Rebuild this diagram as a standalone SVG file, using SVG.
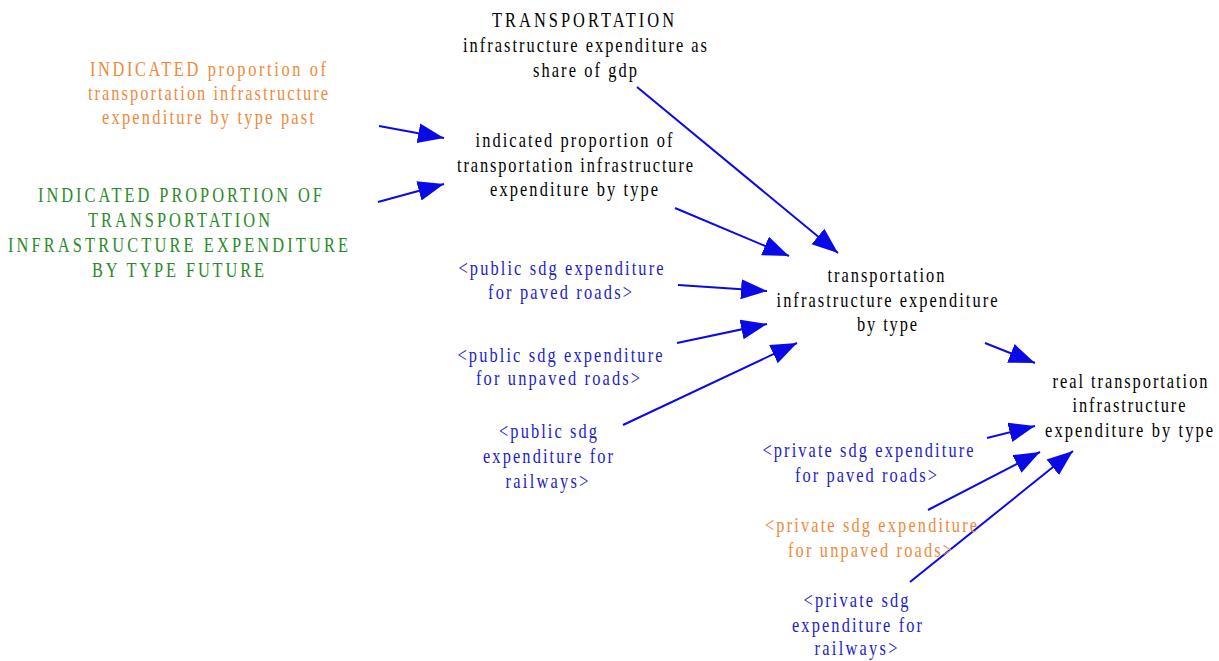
<svg xmlns="http://www.w3.org/2000/svg" width="1219" height="661" viewBox="0 0 1219 661">
<defs>
<style>
text{font-family:"Liberation Serif","Times New Roman",serif;font-size:21px;text-anchor:middle;}
.k{fill:#000;}
.o{fill:#ec8a3c;}
.g{fill:#2a8a2a;}
.b{fill:#1c1cc8;}
.c line{stroke:#0a0ae6;stroke-width:2;marker-end:url(#ah);}
</style>
<marker id="ah" markerUnits="userSpaceOnUse" markerWidth="28" markerHeight="22" refX="26" refY="10" orient="auto">
<path d="M0,0 L26,10 L0,20 Z" fill="#0a0ae6"/>
</marker>
</defs>
<rect width="1219" height="661" fill="#fff"/>
<g id="connectors" class="c">
<line x1="379" y1="126" x2="444" y2="138"/>
<line x1="378" y1="202" x2="444" y2="184"/>
<line x1="637" y1="87" x2="838" y2="253"/>
<line x1="675" y1="208" x2="789" y2="256"/>
<line x1="678" y1="285" x2="767" y2="291"/>
<line x1="677" y1="343" x2="767" y2="324"/>
<line x1="623" y1="425" x2="797" y2="343"/>
<line x1="985" y1="343" x2="1035" y2="363"/>
<line x1="987" y1="438" x2="1035" y2="426"/>
<line x1="928" y1="510" x2="1040" y2="452"/>
<line x1="910" y1="582" x2="1073" y2="451"/>
</g>
<g id="n1" class="k">
<text transform="matrix(0.78 0 0 1 583 0)" x="0" y="27" textLength="233.3" lengthAdjust="spacing">TRANSPORTATION</text>
<text transform="matrix(0.78 0 0 1 585 0)" x="0" y="52" textLength="312.8" lengthAdjust="spacing">infrastructure expenditure as</text>
<text transform="matrix(0.78 0 0 1 585 0)" x="0" y="77" textLength="133.3" lengthAdjust="spacing">share of gdp</text>
</g>
<g id="n2" class="o">
<text transform="matrix(0.78 0 0 1 208 0)" x="0" y="76" textLength="302.6" lengthAdjust="spacing">INDICATED proportion of</text>
<text transform="matrix(0.78 0 0 1 208 0)" x="0" y="100" textLength="307.7" lengthAdjust="spacing">transportation infrastructure</text>
<text transform="matrix(0.78 0 0 1 208 0)" x="0" y="124" textLength="271.8" lengthAdjust="spacing">expenditure by type past</text>
</g>
<g id="n3" class="g">
<text transform="matrix(0.78 0 0 1 180 0)" x="0" y="202" textLength="364.1" lengthAdjust="spacing">INDICATED PROPORTION OF</text>
<text transform="matrix(0.78 0 0 1 179 0)" x="0" y="227" textLength="233.3" lengthAdjust="spacing">TRANSPORTATION</text>
<text transform="matrix(0.78 0 0 1 178 0)" x="0" y="252" textLength="435.9" lengthAdjust="spacing">INFRASTRUCTURE EXPENDITURE</text>
<text transform="matrix(0.78 0 0 1 178 0)" x="0" y="277" textLength="220.5" lengthAdjust="spacing">BY TYPE FUTURE</text>
</g>
<g id="n4" class="k">
<text transform="matrix(0.78 0 0 1 574 0)" x="0" y="147" textLength="252.6" lengthAdjust="spacing">indicated proportion of</text>
<text transform="matrix(0.78 0 0 1 575 0)" x="0" y="172" textLength="302.6" lengthAdjust="spacing">transportation infrastructure</text>
<text transform="matrix(0.78 0 0 1 574 0)" x="0" y="196" textLength="215.4" lengthAdjust="spacing">expenditure by type</text>
</g>
<g id="n5" class="b">
<text transform="matrix(0.78 0 0 1 561 0)" x="0" y="275" textLength="262.8" lengthAdjust="spacing">&lt;public sdg expenditure</text>
<text transform="matrix(0.78 0 0 1 560 0)" x="0" y="299" textLength="184.6" lengthAdjust="spacing">for paved roads&gt;</text>
</g>
<g id="n6" class="b">
<text transform="matrix(0.78 0 0 1 560 0)" x="0" y="362" textLength="262.8" lengthAdjust="spacing">&lt;public sdg expenditure</text>
<text transform="matrix(0.78 0 0 1 558 0)" x="0" y="385" textLength="210.3" lengthAdjust="spacing">for unpaved roads&gt;</text>
</g>
<g id="n7" class="b">
<text transform="matrix(0.78 0 0 1 548 0)" x="0" y="438" textLength="125.6" lengthAdjust="spacing">&lt;public sdg</text>
<text transform="matrix(0.78 0 0 1 548 0)" x="0" y="463" textLength="166.7" lengthAdjust="spacing">expenditure for</text>
<text transform="matrix(0.78 0 0 1 547 0)" x="0" y="488" textLength="106.4" lengthAdjust="spacing">railways&gt;</text>
</g>
<g id="n8" class="k">
<text transform="matrix(0.78 0 0 1 886 0)" x="0" y="282" textLength="150" lengthAdjust="spacing">transportation</text>
<text transform="matrix(0.78 0 0 1 887 0)" x="0" y="307" textLength="283.3" lengthAdjust="spacing">infrastructure expenditure</text>
<text transform="matrix(0.78 0 0 1 887 0)" x="0" y="331" textLength="76.9" lengthAdjust="spacing">by type</text>
</g>
<g id="n9" class="k">
<text transform="matrix(0.78 0 0 1 1130 0)" x="0" y="388" textLength="198.7" lengthAdjust="spacing">real transportation</text>
<text transform="matrix(0.78 0 0 1 1129 0)" x="0" y="412" textLength="144.9" lengthAdjust="spacing">infrastructure</text>
<text transform="matrix(0.78 0 0 1 1129 0)" x="0" y="437" textLength="215.4" lengthAdjust="spacing">expenditure by type</text>
</g>
<g id="n10" class="b">
<text transform="matrix(0.78 0 0 1 868 0)" x="0" y="457" textLength="270.5" lengthAdjust="spacing">&lt;private sdg expenditure</text>
<text transform="matrix(0.78 0 0 1 866 0)" x="0" y="482" textLength="182.1" lengthAdjust="spacing">for paved roads&gt;</text>
</g>
<g id="n11" class="o">
<text transform="matrix(0.78 0 0 1 871 0)" x="0" y="532" textLength="271.8" lengthAdjust="spacing">&lt;private sdg expenditure</text>
<text transform="matrix(0.78 0 0 1 870 0)" x="0" y="557" textLength="210.3" lengthAdjust="spacing">for unpaved roads&gt;</text>
</g>
<g id="n12" class="b">
<text transform="matrix(0.78 0 0 1 856 0)" x="0" y="607" textLength="134.6" lengthAdjust="spacing">&lt;private sdg</text>
<text transform="matrix(0.78 0 0 1 857 0)" x="0" y="632" textLength="166.7" lengthAdjust="spacing">expenditure for</text>
<text transform="matrix(0.78 0 0 1 856 0)" x="0" y="655" textLength="106.4" lengthAdjust="spacing">railways&gt;</text>
</g>
</svg>
